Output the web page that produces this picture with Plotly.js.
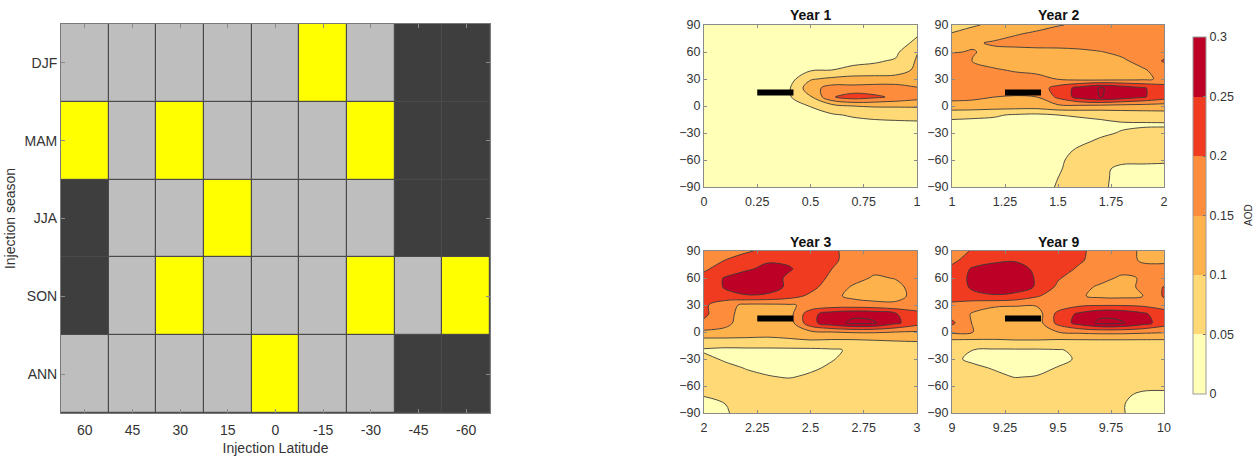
<!DOCTYPE html>
<html>
<head>
<meta charset="utf-8">
<script src="https://cdn.plot.ly/plotly-3.0.1.min.js"></script>
<style>html,body{margin:0;padding:0;background:#fff;}#chart{width:1257px;height:460px;}</style>
</head>
<body>
<div id="chart"></div>
<script>
// ---------------- Left panel data ----------------
const seasons = ['DJF', 'MAM', 'JJA', 'SON', 'ANN'];
const injectionLatitudes = ['60', '45', '30', '15', '0', '-15', '-30', '-45', '-60'];
// 0 = grey, 1 = yellow, 2 = dark
const outcome = [
  [0, 0, 0, 0, 0, 1, 0, 2, 2],
  [1, 0, 1, 0, 0, 0, 1, 2, 2],
  [2, 0, 0, 1, 0, 0, 0, 2, 2],
  [2, 0, 1, 0, 0, 0, 1, 0, 1],
  [0, 0, 0, 0, 1, 0, 0, 2, 2]
];

// ---------------- Right panel data ----------------
const aodLat = [-90, -80, -70, -60, -50, -40, -30, -20, -10, 0, 10, 20, 30, 40, 50, 60, 70, 80, 90];
const yearFrac = [0, 0.1, 0.2, 0.3, 0.4, 0.5, 0.6, 0.7, 0.8, 0.9, 1.0];
const yearStarts = [0, 1, 2, 9];
const yearTitles = ['Year 1', 'Year 2', 'Year 3', 'Year 9'];
const injStartFrac = 0.25;
const injEndFrac = 0.42;
const injLat = 15;
const aodLevels = [0, 0.05, 0.1, 0.15, 0.2, 0.25, 0.3];

const aodYear1 = [
  [.02,.02,.02,.02,.02,.02,.02,.02,.02,.02,.02],
  [.02,.02,.02,.02,.02,.02,.02,.02,.02,.02,.02],
  [.02,.02,.02,.02,.02,.02,.02,.02,.02,.02,.02],
  [.02,.02,.02,.02,.02,.02,.02,.02,.02,.02,.02],
  [.02,.02,.02,.02,.02,.02,.02,.02,.02,.02,.025],
  [.02,.02,.02,.02,.02,.02,.02,.02,.025,.025,.025],
  [.02,.02,.02,.02,.02,.02,.025,.03,.03,.03,.03],
  [.02,.02,.02,.02,.02,.025,.03,.035,.04,.04,.04],
  [.02,.02,.02,.02,.025,.03,.045,.055,.06,.065,.07],
  [.02,.02,.02,.02,.03,.052,.08,.10,.105,.105,.105],
  [.02,.02,.02,.025,.045,.095,.195,.225,.21,.19,.17],
  [.02,.02,.02,.025,.045,.13,.17,.165,.17,.17,.152],
  [.02,.02,.02,.02,.03,.095,.11,.12,.12,.12,.13],
  [.02,.02,.02,.02,.02,.045,.05,.06,.065,.075,.11],
  [.02,.02,.02,.02,.02,.025,.03,.04,.045,.055,.105],
  [.02,.02,.02,.02,.02,.02,.025,.03,.035,.04,.098],
  [.02,.02,.02,.02,.02,.02,.02,.025,.025,.03,.06],
  [.02,.02,.02,.02,.02,.02,.02,.02,.02,.025,.045],
  [.02,.02,.02,.02,.02,.02,.02,.02,.02,.02,.03]
];

const aodYear2 = [
  [.025,.025,.025,.025,.04,.052,.06,.056,.04,.04,.04],
  [.025,.025,.025,.025,.035,.05,.06,.056,.042,.04,.04],
  [.025,.025,.025,.025,.035,.048,.058,.055,.045,.045,.045],
  [.025,.025,.025,.025,.03,.045,.06,.058,.055,.054,.053],
  [.025,.025,.025,.025,.03,.04,.055,.06,.06,.06,.058],
  [.03,.03,.03,.03,.03,.035,.045,.055,.06,.062,.062],
  [.03,.03,.03,.03,.03,.03,.035,.045,.052,.058,.06],
  [.035,.035,.035,.03,.03,.03,.035,.04,.045,.045,.045],
  [.065,.06,.055,.045,.04,.05,.055,.06,.07,.075,.08],
  [.13,.13,.125,.125,.125,.14,.14,.135,.13,.128,.125],
  [.165,.16,.15,.145,.15,.21,.27,.302,.28,.255,.225],
  [.175,.18,.18,.178,.172,.22,.265,.304,.28,.255,.225],
  [.175,.175,.172,.168,.162,.148,.135,.13,.135,.14,.16],
  [.175,.168,.155,.145,.14,.138,.138,.138,.14,.145,.17],
  [.17,.148,.132,.128,.126,.126,.128,.132,.142,.165,.205],
  [.148,.152,.14,.138,.137,.138,.14,.148,.16,.17,.18],
  [.125,.145,.155,.16,.165,.165,.17,.175,.175,.18,.18],
  [.105,.12,.135,.148,.155,.165,.17,.175,.18,.18,.175],
  [.07,.095,.11,.125,.14,.148,.155,.165,.17,.175,.17]
];

const aodYear3 = [
  [.035,.048,.058,.06,.065,.065,.065,.065,.065,.065,.065],
  [.04,.05,.06,.065,.065,.065,.065,.065,.065,.065,.065],
  [.052,.058,.065,.065,.065,.065,.065,.068,.068,.068,.068],
  [.06,.065,.065,.065,.065,.065,.068,.07,.07,.07,.07],
  [.065,.065,.06,.052,.048,.055,.06,.065,.068,.07,.07],
  [.065,.06,.048,.042,.04,.045,.055,.065,.068,.07,.07],
  [.06,.045,.04,.035,.035,.04,.048,.06,.065,.068,.07],
  [.045,.04,.04,.04,.04,.04,.045,.055,.065,.07,.07],
  [.08,.08,.085,.085,.09,.095,.09,.09,.095,.1,.102],
  [.14,.14,.125,.12,.125,.14,.15,.155,.155,.15,.145],
  [.19,.16,.13,.12,.125,.235,.28,.31,.305,.26,.22],
  [.21,.165,.13,.125,.13,.235,.275,.29,.285,.255,.215],
  [.21,.165,.14,.14,.145,.16,.17,.17,.165,.16,.17],
  [.215,.235,.245,.24,.22,.19,.16,.14,.13,.135,.165],
  [.215,.255,.28,.275,.24,.215,.175,.145,.135,.14,.165],
  [.21,.255,.27,.275,.24,.225,.19,.165,.145,.152,.16],
  [.195,.215,.245,.26,.255,.225,.2,.175,.16,.155,.16],
  [.185,.2,.22,.245,.24,.22,.205,.19,.17,.165,.165],
  [.17,.18,.195,.21,.22,.215,.205,.19,.175,.17,.17]
];

const aodYear9 = [
  [.065,.065,.065,.065,.065,.065,.065,.06,.052,.04,.04],
  [.065,.065,.065,.065,.065,.065,.065,.06,.052,.04,.04],
  [.065,.065,.065,.065,.065,.065,.065,.06,.055,.045,.045],
  [.065,.065,.065,.065,.065,.065,.065,.065,.06,.057,.055],
  [.065,.06,.056,.049,.052,.058,.062,.065,.065,.062,.06],
  [.06,.055,.048,.042,.04,.052,.055,.06,.065,.065,.065],
  [.055,.045,.04,.035,.035,.04,.055,.06,.065,.065,.065],
  [.055,.05,.045,.045,.045,.048,.055,.06,.065,.065,.065],
  [.09,.09,.09,.095,.095,.09,.09,.09,.09,.09,.09],
  [.16,.15,.145,.14,.14,.15,.16,.165,.165,.16,.155],
  [.21,.145,.125,.12,.125,.215,.27,.31,.305,.27,.225],
  [.18,.145,.125,.12,.125,.215,.26,.29,.285,.26,.22],
  [.195,.17,.158,.155,.155,.17,.19,.195,.195,.19,.18],
  [.21,.235,.245,.235,.205,.175,.155,.14,.138,.15,.205],
  [.215,.26,.275,.275,.245,.19,.16,.145,.14,.155,.203],
  [.215,.265,.28,.28,.245,.205,.175,.16,.145,.152,.165],
  [.21,.258,.27,.27,.24,.215,.195,.175,.16,.16,.165],
  [.19,.22,.24,.245,.235,.225,.205,.185,.165,.145,.14],
  [.18,.205,.215,.22,.225,.225,.205,.19,.175,.14,.135]
];
const aodGrids = [aodYear1, aodYear2, aodYear3, aodYear9];

// ---------------- Styling ----------------
const FONT = 'Liberation Sans, Arial, Helvetica, sans-serif';
const bandColors = ['#ffffb8', '#fed976', '#feb24c', '#fd8d3c', '#f03b20', '#bd0026'];
const W = 1257, H = 460;
const px = v => v / W;
const py = v => 1 - v / H;

const contourScale = [
  [0, bandColors[0]], [1/6, bandColors[1]], [2/6, bandColors[2]],
  [3/6, bandColors[3]], [4/6, bandColors[4]], [5/6, bandColors[5]], [1, bandColors[5]]
];
const stepScale = [];
bandColors.forEach((c, i) => { stepScale.push([i / 6, c]); stepScale.push([(i + 1) / 6, c]); });

const traces = [];

traces.push({
  type: 'heatmap',
  x: injectionLatitudes,
  y: seasons,
  z: outcome,
  zmin: 0, zmax: 2,
  colorscale: [[0, '#bebebe'], [0.3333, '#bebebe'], [0.3333, '#ffff00'], [0.6667, '#ffff00'], [0.6667, '#3e3e3e'], [1, '#3e3e3e']],
  showscale: false,
  xgap: 1.2, ygap: 1.2,
  xaxis: 'x', yaxis: 'y',
  hoverinfo: 'skip'
});

const axisIds = [['x2', 'y2'], ['x3', 'y3'], ['x4', 'y4'], ['x5', 'y5']];
aodGrids.forEach((grid, i) => {
  const xs = yearFrac.map(f => yearStarts[i] + f);
  traces.push({
    type: 'contour',
    x: xs, y: aodLat, z: grid,
    autocontour: false,
    contours: { start: 0.05, end: 0.3, size: 0.05, coloring: 'fill' },
    colorscale: contourScale,
    line: { color: '#3a3a3a', width: 0.9, smoothing: 1.0 },
    showscale: false,
    xaxis: axisIds[i][0], yaxis: axisIds[i][1],
    hoverinfo: 'skip'
  });
  traces.push({
    type: 'scatter', mode: 'lines',
    x: [yearStarts[i] + injStartFrac, yearStarts[i] + injEndFrac],
    y: [injLat, injLat],
    line: { color: '#000', width: 6 },
    xaxis: axisIds[i][0], yaxis: axisIds[i][1],
    hoverinfo: 'skip', showlegend: false
  });
});

traces.push({
  type: 'heatmap',
  x: [-5, -4], y: [-300],
  z: [[aodLevels[0], aodLevels[aodLevels.length - 1]]],
  zmin: aodLevels[0], zmax: aodLevels[aodLevels.length - 1],
  colorscale: stepScale,
  showscale: true,
  xaxis: 'x2', yaxis: 'y2',
  hoverinfo: 'skip',
  colorbar: {
    x: px(1193), xanchor: 'left', xpad: 0, ypad: 0,
    y: py(215.5), yanchor: 'middle',
    thickness: 13, thicknessmode: 'pixels',
    len: 357, lenmode: 'pixels',
    outlinewidth: 1, outlinecolor: '#9a9a9a',
    tickvals: aodLevels, ticktext: aodLevels.map(String),
    ticks: 'inside', ticklen: 3, tickcolor: '#777',
    tickfont: { family: FONT, size: 12.5, color: '#333' }
  }
});

const panelAxis = (dom, extra) => Object.assign({
  domain: dom,
  showgrid: false, zeroline: false,
  showline: true, mirror: 'ticks', linecolor: '#8a8a8a', linewidth: 1,
  ticks: 'inside', ticklen: 3, tickcolor: '#8a8a8a',
  tickfont: { family: FONT, size: 12.5, color: '#333' }
}, extra);

const xDomL = [px(704), px(917)], xDomR = [px(952), px(1164)];
const yDomT = [py(187), py(25)], yDomB = [py(413), py(251)];

const layout = {
  width: W, height: H,
  margin: { l: 0, r: 0, t: 0, b: 0 },
  paper_bgcolor: '#ffffff',
  plot_bgcolor: '#4a4a4a',
  showlegend: false,
  font: { family: FONT, color: '#333' },
  xaxis: {
    domain: [px(61), px(490)], type: 'category',
    showgrid: false, zeroline: false,
    showline: true, mirror: 'ticks', linecolor: '#7a7a7a', linewidth: 1,
    ticks: 'inside', ticklen: 4, tickcolor: '#8a8a8a', ticklabelstandoff: 4,
    tickfont: { family: FONT, size: 14, color: '#333' },
    title: { text: 'Injection Latitude', font: { family: FONT, size: 14, color: '#333' }, standoff: 6 }
  },
  yaxis: {
    domain: [py(413), py(24)], type: 'category', autorange: 'reversed',
    showgrid: false, zeroline: false,
    showline: true, mirror: 'ticks', linecolor: '#7a7a7a', linewidth: 1,
    ticks: 'inside', ticklen: 4, tickcolor: '#8a8a8a',
    tickfont: { family: FONT, size: 14, color: '#333' },
    title: { text: 'Injection season', font: { family: FONT, size: 14, color: '#333' }, standoff: 5 }
  },
  xaxis2: panelAxis(xDomL, { anchor: 'y2', range: [0, 1], tick0: 0, dtick: 0.25, ticklabelstandoff: 3 }),
  yaxis2: panelAxis(yDomT, { anchor: 'x2', range: [-90, 90], tick0: -90, dtick: 30 }),
  xaxis3: panelAxis(xDomR, { anchor: 'y3', range: [1, 2], tick0: 1, dtick: 0.25, ticklabelstandoff: 3 }),
  yaxis3: panelAxis(yDomT, { anchor: 'x3', range: [-90, 90], tick0: -90, dtick: 30 }),
  xaxis4: panelAxis(xDomL, { anchor: 'y4', range: [2, 3], tick0: 2, dtick: 0.25, ticklabelstandoff: 3 }),
  yaxis4: panelAxis(yDomB, { anchor: 'x4', range: [-90, 90], tick0: -90, dtick: 30 }),
  xaxis5: panelAxis(xDomR, { anchor: 'y5', range: [9, 10], tick0: 9, dtick: 0.25, ticklabelstandoff: 3 }),
  yaxis5: panelAxis(yDomB, { anchor: 'x5', range: [-90, 90], tick0: -90, dtick: 30 }),
  annotations: [
    { text: '<b>' + yearTitles[0] + '</b>', x: px(810.5), y: py(15), xref: 'paper', yref: 'paper', showarrow: false, font: { family: FONT, size: 14, color: '#111' }, xanchor: 'center', yanchor: 'middle' },
    { text: '<b>' + yearTitles[1] + '</b>', x: px(1058), y: py(15), xref: 'paper', yref: 'paper', showarrow: false, font: { family: FONT, size: 14, color: '#111' }, xanchor: 'center', yanchor: 'middle' },
    { text: '<b>' + yearTitles[2] + '</b>', x: px(810.5), y: py(242), xref: 'paper', yref: 'paper', showarrow: false, font: { family: FONT, size: 14, color: '#111' }, xanchor: 'center', yanchor: 'middle' },
    { text: '<b>' + yearTitles[3] + '</b>', x: px(1058), y: py(242), xref: 'paper', yref: 'paper', showarrow: false, font: { family: FONT, size: 14, color: '#111' }, xanchor: 'center', yanchor: 'middle' },
    { text: 'AOD', x: px(1248), y: py(215), xref: 'paper', yref: 'paper', showarrow: false, textangle: -90, font: { family: FONT, size: 10, color: '#333' }, xanchor: 'center', yanchor: 'middle' }
  ]
};

Plotly.newPlot('chart', traces, layout, { displayModeBar: false, staticPlot: true });
</script>
</body>
</html>
